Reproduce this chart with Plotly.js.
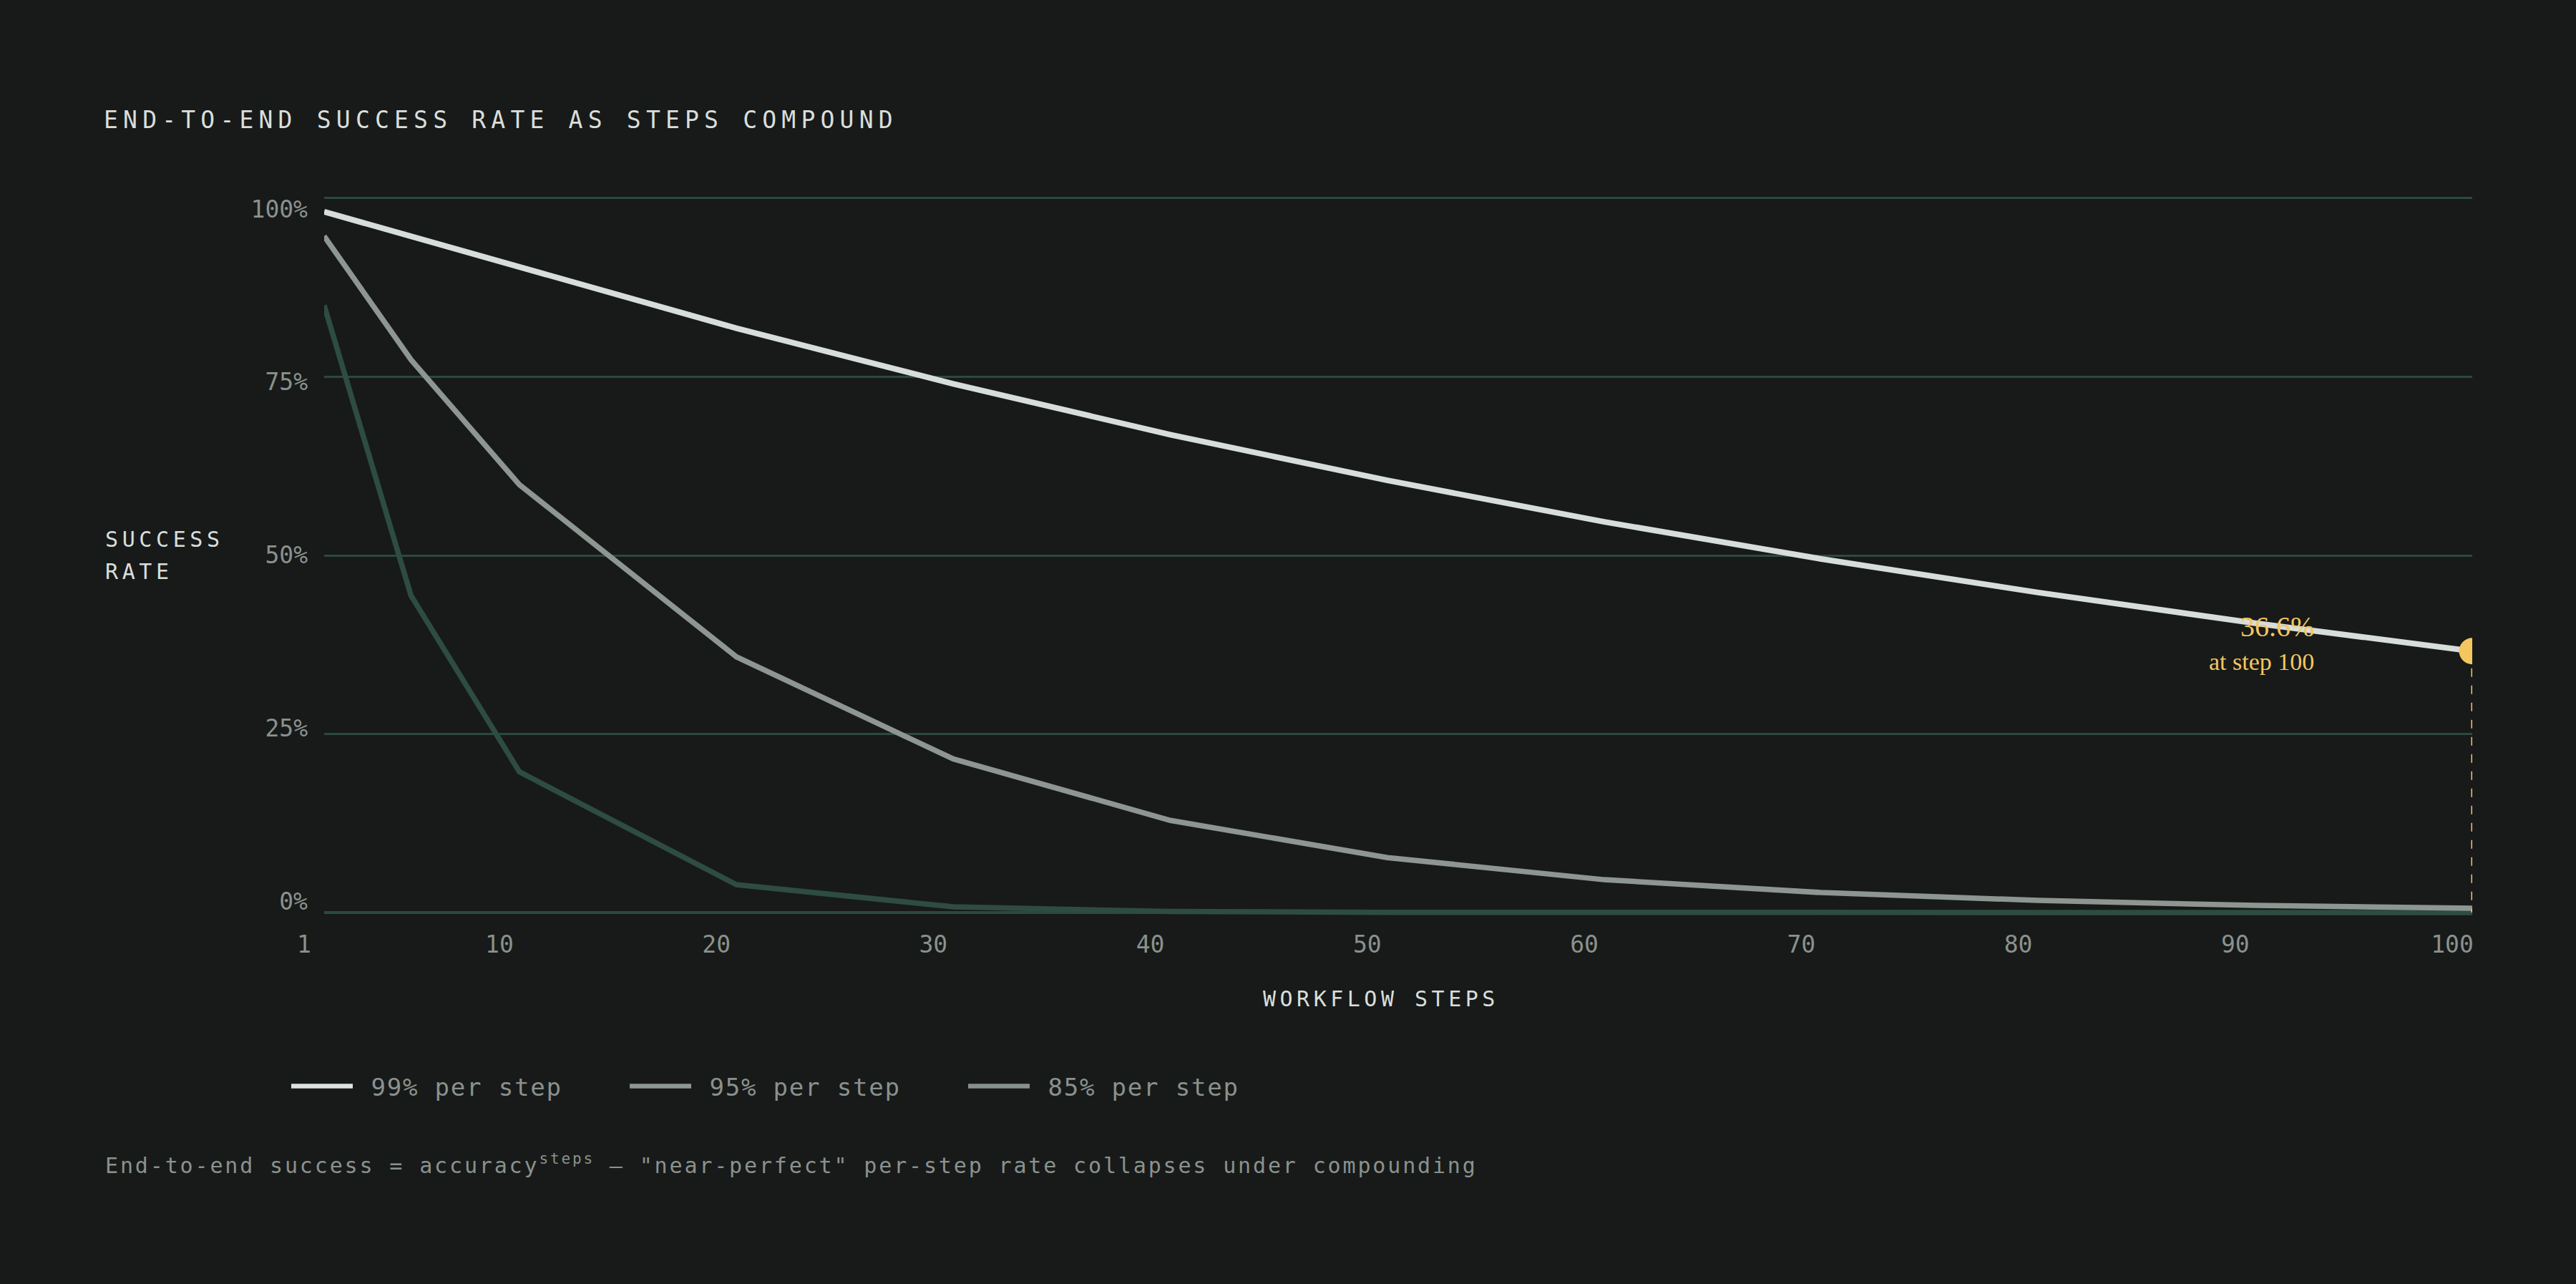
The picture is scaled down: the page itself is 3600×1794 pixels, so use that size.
<!DOCTYPE html>
<html>
<head>
<meta charset="utf-8">
<script src="https://cdn.plot.ly/plotly-3.0.1.min.js"></script>
<style>
  html, body { margin: 0; padding: 0; background: #171a19; }
  #chart { width: 3600px; height: 1794px; }
</style>
</head>
<body>
<div id="chart"></div>
<script>
// workflow steps sampled on the x axis
var steps = [1, 5, 10, 20, 30, 40, 50, 60, 70, 80, 90, 100];

// end-to-end success, one array per per-step accuracy
var rate99 = [0.981, 0.947, 0.904, 0.818, 0.740, 0.669, 0.605, 0.547, 0.495, 0.448, 0.405, 0.366];
var rate95 = [0.947, 0.774, 0.599, 0.358, 0.215, 0.129, 0.077, 0.046, 0.028, 0.017, 0.010, 0.006];
var rate85 = [0.850, 0.444, 0.197, 0.039, 0.008, 0.0015, 0.0003, 0.0001, 0, 0, 0, 0];

var seriesNames = ['99% per step', '95% per step', '85% per step'];

var xTicks = [1, 10, 20, 30, 40, 50, 60, 70, 80, 90, 100];
var yTicks = [0, 0.25, 0.5, 0.75, 1];
var yTickText = ['0%', '25%', '50%', '75%', '100%'];

// highlighted end point
var endStep = [100];
var endRate = [0.366];

var mono = '"DejaVu Sans Mono", "Liberation Mono", monospace';
var bg = '#171a19';
var grid = '#2c493f';
var muted = '#8b918d';
var light = '#d9dedb';
var gold = '#f4c660';

function spaced(txt, px) {
    return '<span style="letter-spacing:' + px + 'px">' + txt + '</span>';
}

var data = [
    {x: steps, y: rate85, type: 'scatter', mode: 'lines', showlegend: false,
     line: {color: '#2e4c41', width: 7.5}, hoverinfo: 'skip'},
    {x: steps, y: rate95, type: 'scatter', mode: 'lines', showlegend: false,
     line: {color: '#8e9691', width: 7.5}, hoverinfo: 'skip'},
    {x: steps, y: rate99, type: 'scatter', mode: 'lines', showlegend: false,
     line: {color: '#d7ddd9', width: 8}, hoverinfo: 'skip'},
    // dashed drop line under the highlighted point
    {x: [endStep[0], endStep[0]], y: [endRate[0], 0], type: 'scatter', mode: 'lines', showlegend: false,
     line: {color: gold, width: 3, dash: '12px,12px'}, hoverinfo: 'skip'},
    {x: endStep, y: endRate, type: 'scatter', mode: 'markers', showlegend: false,
     marker: {color: gold, size: 37}, hoverinfo: 'skip'},
    // legend entries (the reference legend uses grey swatches)
    {x: [null], y: [null], yaxis: 'y2', type: 'scatter', mode: 'lines', name: ' ' + spaced(seriesNames[0], 1.8),
     line: {color: '#dde3df', width: 6.5}},
    {x: [null], y: [null], yaxis: 'y2', type: 'scatter', mode: 'lines', name: ' ' + spaced(seriesNames[1], 1.8),
     line: {color: '#8e9691', width: 6.5}},
    {x: [null], y: [null], yaxis: 'y2', type: 'scatter', mode: 'lines', name: ' ' + spaced(seriesNames[2], 1.8),
     line: {color: '#88908b', width: 6.5}}
];

var plotL = 453, plotR = 3455, plotT = 262, plotB = 1285;
var W = 3600, H = 1794;
function px2paperX(px) { return (px - plotL) / (plotR - plotL); }
function px2paperY(py) { return (plotB - py) / (plotB - plotT); }

var layout = {
    width: W,
    height: H,
    paper_bgcolor: bg,
    plot_bgcolor: bg,
    margin: {l: plotL, r: W - plotR, t: plotT, b: H - plotB, pad: 0},
    title: {
        text: spaced('END-TO-END SUCCESS RATE AS STEPS COMPOUND', 7.2),
        font: {family: mono, size: 33, color: light},
        xref: 'container', x: 145 / W, xanchor: 'left',
        yref: 'container', y: 1 - 167 / H, yanchor: 'middle'
    },
    xaxis: {
        range: [1, 100],
        tickmode: 'array',
        tickvals: xTicks,
        ticktext: xTicks.map(String),
        showgrid: false, zeroline: false, showline: false,
        ticks: '',
        tickfont: {family: mono, size: 33, color: muted},
        ticklabelshift: -28,
        ticklabelstandoff: 12,
        fixedrange: true
    },
    yaxis: {
        range: [-0.01, 1.015],
        tickmode: 'array',
        tickvals: yTicks,
        showticklabels: false,
        showgrid: true, gridcolor: grid, gridwidth: 3,
        zeroline: true, zerolinecolor: grid, zerolinewidth: 4,
        showline: false, ticks: '',
        fixedrange: true
    },
    // label axis: the reference's % labels sit on a slightly tighter scale than the grid
    yaxis2: {
        overlaying: 'y', side: 'left',
        range: [-0.0269, 1.031],
        tickmode: 'array',
        tickvals: yTicks,
        ticktext: yTickText,
        showgrid: false, zeroline: false, showline: false, ticks: '',
        tickfont: {family: mono, size: 33, color: muted},
        ticklabelstandoff: 22,
        fixedrange: true
    },
    legend: {
        orientation: 'h',
        xref: 'container', x: 402 / W, xanchor: 'left',
        yref: 'container', y: 1 - 1518 / H, yanchor: 'middle',
        font: {family: mono, size: 34, color: muted},
        itemwidth: 86,
        entrywidth: 372, entrywidthmode: 'pixels',
        bgcolor: 'rgba(0,0,0,0)',
        itemclick: false, itemdoubleclick: false
    },
    annotations: [
        {text: '<span style="font-size:40px">36.6%</span><br><span style="font-size:34px">at step 100</span>',
         xref: 'x', yref: 'y', x: endStep[0], y: endRate[0],
         xanchor: 'right', yanchor: 'middle', align: 'right',
         xshift: -219, yshift: 12, showarrow: false,
         font: {family: '"Liberation Serif", serif', size: 36, color: gold}},
        {text: spaced('SUCCESS', 5.6), xref: 'paper', yref: 'paper',
         x: px2paperX(145), y: px2paperY(753), xanchor: 'left', yanchor: 'middle',
         showarrow: false, font: {family: mono, size: 30, color: light}},
        {text: spaced('RATE', 5.6), xref: 'paper', yref: 'paper',
         x: px2paperX(145), y: px2paperY(798), xanchor: 'left', yanchor: 'middle',
         showarrow: false, font: {family: mono, size: 30, color: light}},
        {text: spaced('WORKFLOW STEPS', 5.5), xref: 'paper', yref: 'paper',
         x: px2paperX(1930), y: px2paperY(1395), xanchor: 'center', yanchor: 'middle',
         showarrow: false, font: {family: mono, size: 30, color: light}},
        {text: spaced('End-to-end success = accuracy<sup>steps</sup> \u2014 "near-perfect" per-step rate collapses under compounding', 2.85),
         xref: 'paper', yref: 'paper',
         x: px2paperX(145), y: px2paperY(1626), xanchor: 'left', yanchor: 'middle',
         showarrow: false, font: {family: mono, size: 30, color: muted}}
    ]
};

Plotly.newPlot('chart', data, layout, {displayModeBar: false, staticPlot: true});
</script>
</body>
</html>
